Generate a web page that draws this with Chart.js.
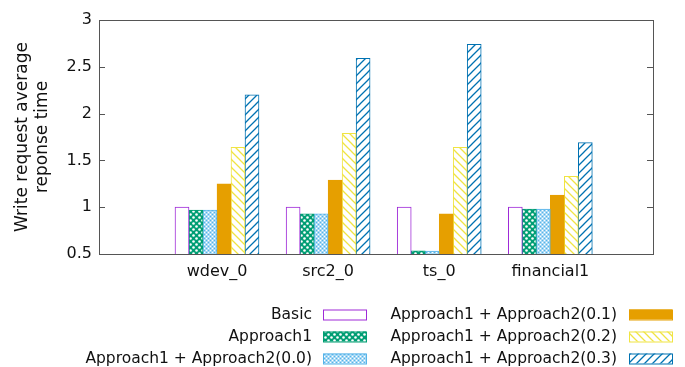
<!DOCTYPE html>
<html>
<head>
<meta charset="utf-8">
<script src="https://cdn.jsdelivr.net/npm/chart.js@4.4.1/dist/chart.umd.min.js"></script>
<style>
  html, body { margin: 0; padding: 0; background: #fff; }
  #wrap { width: 685px; height: 367px; }
</style>
</head>
<body>
<div id="wrap"><canvas id="c" width="685" height="367"></canvas></div>
<script>
// data
var categories = ["wdev_0", "src2_0", "ts_0", "financial1"];
var seriesNames = ["Basic", "Approach1", "Approach1 + Approach2(0.0)",
                   "Approach1 + Approach2(0.1)", "Approach1 + Approach2(0.2)", "Approach1 + Approach2(0.3)"];
var basic = [1.0, 1.0, 1.0, 1.0];
var approach1 = [0.97, 0.93, 0.535, 0.98];
var approach2_00 = [0.97, 0.93, 0.53, 0.98];
var approach2_01 = [1.25, 1.29, 0.93, 1.13];
var approach2_02 = [1.64, 1.79, 1.64, 1.33];
var approach2_03 = [2.20, 2.59, 2.74, 1.69];
var yTicks = [0.5, 1, 1.5, 2, 2.5, 3];

var FONT = "'DejaVu Sans', sans-serif";
var FRAME = "#555555";

function tile(size, draw) {
    var c = document.createElement("canvas");
    c.width = size; c.height = size;
    var g = c.getContext("2d");
    draw(g, size);
    return document.getElementById("c").getContext("2d").createPattern(c, "repeat");
}

var patDots = tile(6, function (g, s) {
    g.fillStyle = "#009E73"; g.fillRect(0, 0, s, s);
    g.fillStyle = "#ffffff";
    g.beginPath(); g.arc(1.5, 1.5, 1.3, 0, Math.PI * 2); g.fill();
    g.beginPath(); g.arc(4.5, 4.5, 1.3, 0, Math.PI * 2); g.fill();
});
var patFine = tile(4, function (g, s) {
    g.fillStyle = "#a9d9f5"; g.fillRect(0, 0, s, s);
    g.fillStyle = "#ffffff"; g.fillRect(0, 0, 1, 1); g.fillRect(2, 2, 1, 1);
    g.fillStyle = "#56B4E9"; g.fillRect(2, 0, 1, 1); g.fillRect(0, 2, 1, 1);
});
function hatch(color, back) {
    return tile(8, function (g, s) {
        g.fillStyle = "#ffffff"; g.fillRect(0, 0, s, s);
        g.strokeStyle = color; g.lineWidth = 1.3;
        g.beginPath();
        if (back) {
            g.moveTo(-1, -1); g.lineTo(s + 1, s + 1);
            g.moveTo(s - 1, -1); g.lineTo(s + 1, 1);
            g.moveTo(-1, s - 1); g.lineTo(1, s + 1);
        } else {
            g.moveTo(-1, s + 1); g.lineTo(s + 1, -1);
            g.moveTo(-1, 1); g.lineTo(1, -1);
            g.moveTo(s - 1, s + 1); g.lineTo(s + 1, s - 1);
        }
        g.stroke();
    });
}

var seriesValues = [basic, approach1, approach2_00, approach2_01, approach2_02, approach2_03];
var borders = ["#9f2ad8", "#009E73", "#56B4E9", "#E69F00", "#F0E442", "#0072B2"];
var fills = ["#ffffff", patDots, patFine, "#E69F00", hatch("#F0E442", true), hatch("#0072B2", false)];

var datasets = seriesValues.map(function (vals, k) {
    return {
        label: seriesNames[k],
        data: vals.map(function (v, i) { return { x: i, y: v }; }),
        backgroundColor: fills[k],
        borderColor: borders[k],
        borderWidth: 1,
        borderSkipped: "bottom",
        barThickness: 14
    };
});

// gnuplot-like frame with inward ticks
var framePlugin = {
    id: "frame",
    afterDatasetsDraw: function (chart) {
        var a = chart.chartArea, ctx = chart.ctx, y = chart.scales.y;
        ctx.save();
        ctx.strokeStyle = FRAME; ctx.lineWidth = 1;
        ctx.strokeRect(Math.round(a.left) + 0.5, Math.round(a.top) + 0.5,
                       Math.round(a.right - a.left) - 1, Math.round(a.bottom - a.top));
        ctx.beginPath();
        yTicks.slice(1, -1).forEach(function (v) {
            var py = Math.round(y.getPixelForValue(v)) + 0.5;
            ctx.moveTo(a.left, py); ctx.lineTo(a.left + 6, py);
            ctx.moveTo(a.right - 1, py); ctx.lineTo(a.right - 7, py);
        });
        ctx.stroke();
        ctx.restore();
    }
};

// two-column legend, text on the left of each sample
var legendPlugin = {
    id: "gpLegend",
    afterDraw: function (chart) {
        var ctx = chart.ctx;
        var cols = [{ textRight: 312, box: 323 }, { textRight: 617, box: 629 }];
        var rows = [314.5, 336.5, 358.5];
        ctx.save();
        ctx.font = "15.5px " + FONT;
        ctx.fillStyle = "#111";
        ctx.textAlign = "right";
        ctx.textBaseline = "middle";
        chart.data.datasets.forEach(function (ds, k) {
            var col = cols[Math.floor(k / 3)], cy = rows[k % 3];
            ctx.fillText(ds.label, col.textRight, cy);
            ctx.fillStyle = ds.backgroundColor;
            ctx.fillRect(col.box, cy - 5, 43, 10);
            ctx.strokeStyle = ds.borderColor; ctx.lineWidth = 1;
            ctx.strokeRect(col.box + 0.5, cy - 5 + 0.5, 43, 10);
            ctx.fillStyle = "#111";
        });
        ctx.restore();
    }
};

new Chart(document.getElementById("c"), {
    type: "bar",
    data: { datasets: datasets },
    options: {
        responsive: false,
        animation: false,
        layout: { padding: { left: 0, right: 31, top: 20, bottom: 73 } },
        plugins: { legend: { display: false }, tooltip: { enabled: false } },
        scales: {
            x: {
                type: "linear",
                offset: false,
                min: -1.062,
                max: 3.933,
                grid: { display: false, drawTicks: false },
                border: { display: false },
                ticks: {
                    stepSize: 1,
                    autoSkip: false,
                    maxRotation: 0,
                    padding: 8,
                    color: "#111",
                    font: { family: FONT, size: 16 },
                    callback: function (v) { return categories[v] !== undefined ? categories[v] : ""; }
                },
                afterFit: function (s) { s.height = 40; }
            },
            y: {
                min: 0.5,
                max: 3,
                grid: { display: false, drawTicks: false },
                border: { display: false },
                ticks: {
                    stepSize: 0.5,
                    padding: 7,
                    color: "#111",
                    font: { family: FONT, size: 16 },
                    callback: function (v) { return String(v); }
                },
                title: {
                    display: true,
                    text: ["Write request average", "reponse time"],
                    color: "#111",
                    font: { family: FONT, size: 17 },
                    padding: { top: 12, bottom: 0 }
                },
                afterFit: function (s) { s.width = 99; }
            }
        }
    },
    plugins: [framePlugin, legendPlugin]
});
</script>
</body>
</html>
